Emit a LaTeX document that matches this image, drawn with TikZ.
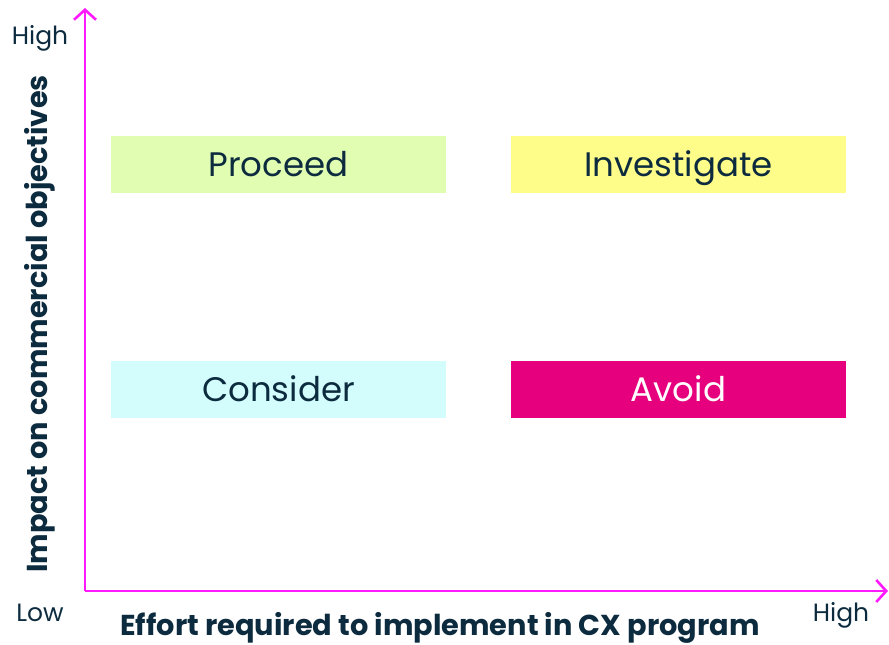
\documentclass[tikz,border=0pt]{standalone}
\usepackage{fontspec}
\setmainfont{Poppins}
\usetikzlibrary{arrows.meta}
\definecolor{ink}{HTML}{0D2B3E}
\definecolor{axis}{HTML}{FF1AFF}
\definecolor{proceedfill}{HTML}{E0FDB2}
\definecolor{investfill}{HTML}{FFFD8A}
\definecolor{considerfill}{HTML}{D3FDFD}
\definecolor{avoidfill}{HTML}{E6007E}
\tikzset{
  x=1pt, y=1pt,
  quad/.style={minimum width=335pt, minimum height=57pt, inner sep=0pt,
    text height=25pt, text depth=0pt,
    font=\fontsize{34}{36}\selectfont, text=ink},
  tick/.style={anchor=base, inner sep=0pt, font=\fontsize{25}{27}\selectfont, text=ink},
  axtitle/.style={anchor=base, inner sep=0pt,
    font=\fontsize{28.8}{30}\selectfont\bfseries, text=ink},
  axline/.style={draw=axis, line width=2.6pt,
    -{Straight Barb[length=10pt, width=22pt, line width=2.6pt]}}
}
\begin{document}
\begin{tikzpicture}
  \useasboundingbox (0,0) rectangle (889,645);
  % axes
  \coordinate (origin) at (85,54);
  \coordinate (ytop) at (85,637);
  \coordinate (xend) at (888,54);
  \draw[axline] (origin) -- (ytop);
  \draw[axline] (origin) -- (xend);
  % quadrants
  \node[quad, fill=proceedfill] (proceed) at (278.5,480.5) {Proceed};
  \node[quad, fill=investfill] (investigate) at (678.5,480.5) {Investigate};
  \node[quad, fill=considerfill] (consider) at (278.5,255.5) {Consider};
  \node[quad, fill=avoidfill, text=white] (avoid) at (678.5,255.5) {Avoid};
  % axis ends
  \node[tick] (yhigh) at (40,600) {High};
  \node[tick] (xlow) at (40,23) {Low};
  \node[tick] (xhigh) at (841,23) {High};
  % axis titles
  \node[axtitle] (xtitle) at (440,9) {Effort required to implement in CX program};
  \node[axtitle, rotate=90] (ytitle) at (47,321) {Impact on commercial objectives};
\end{tikzpicture}
\end{document}
